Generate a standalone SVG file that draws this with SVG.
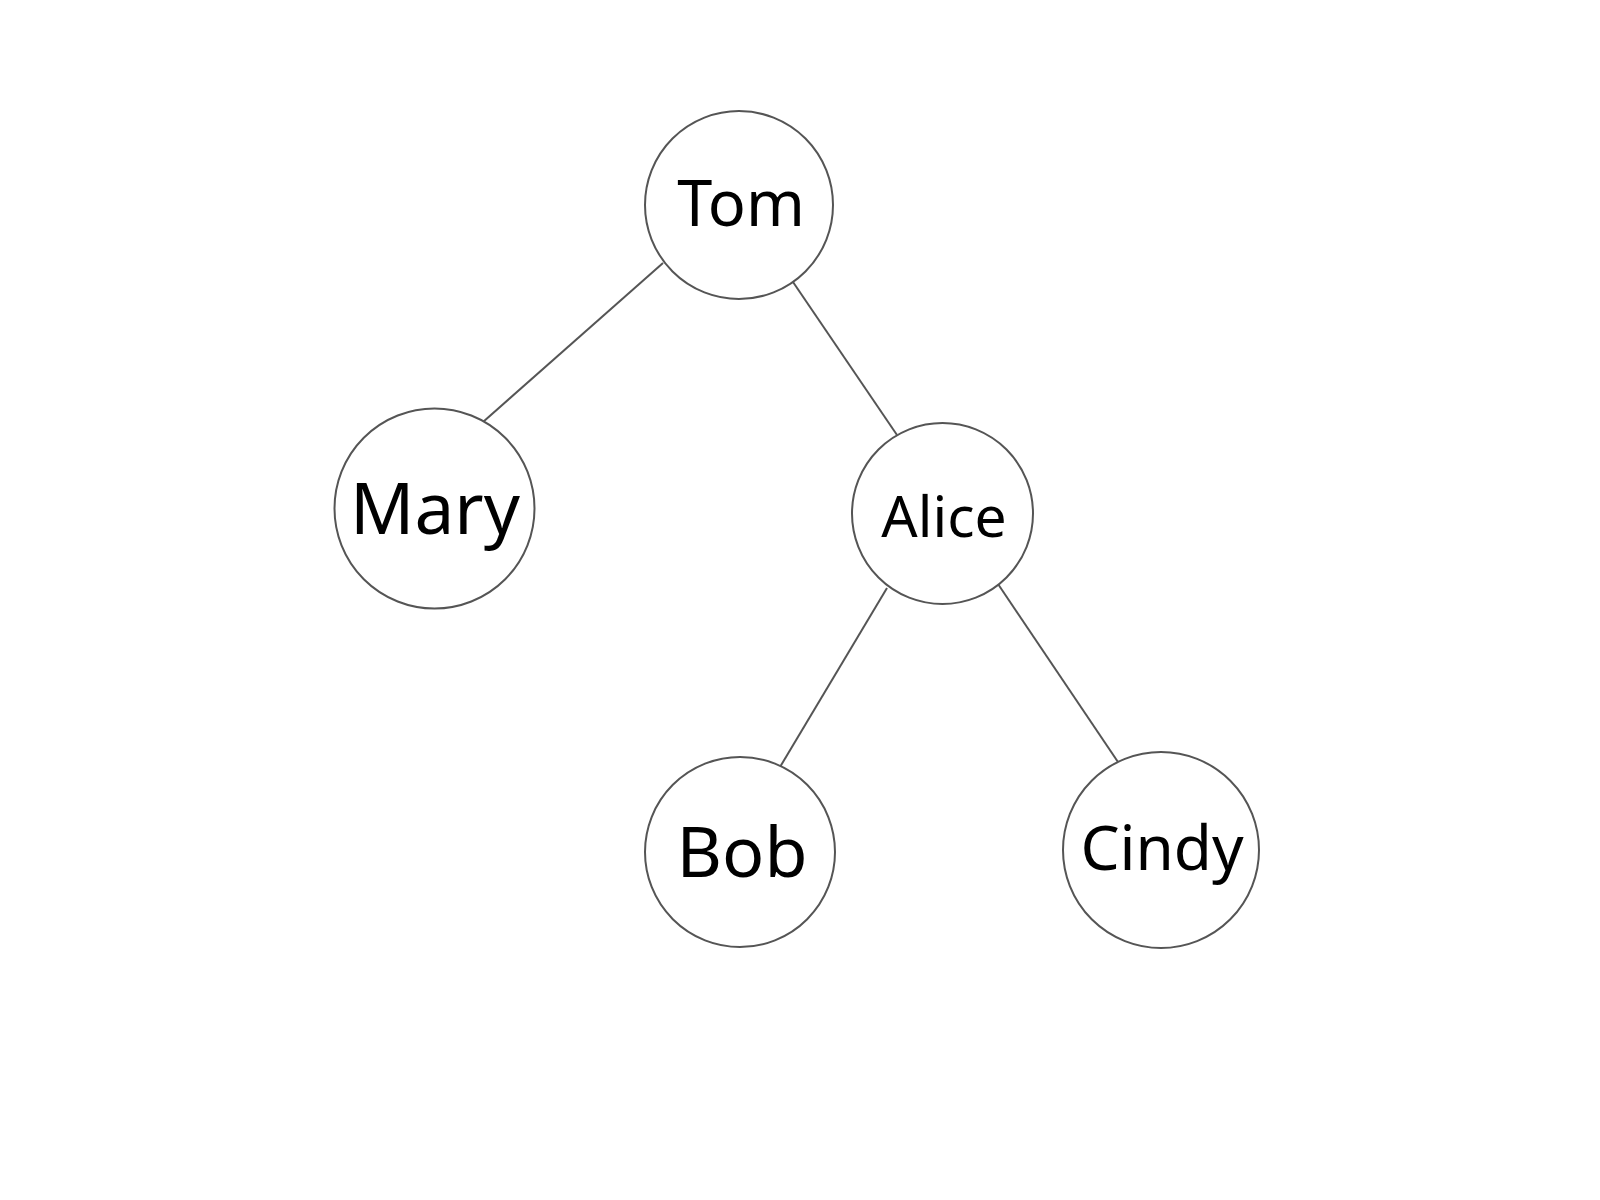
<svg xmlns="http://www.w3.org/2000/svg" width="1600" height="1200" viewBox="0 0 1600 1200">
<style>
.node circle{fill:#fff;stroke:#555;stroke-width:2}
.node text{font-family:"Noto Sans","Liberation Sans",Arial,sans-serif;fill:#000;text-anchor:middle}
#edges line{stroke:#555;stroke-width:2}
</style>
<rect width="1600" height="1200" fill="#fff"/>
<g id="edges">
<line x1="663" y1="263" x2="483" y2="422"/>
<line x1="793" y1="282" x2="897" y2="435"/>
<line x1="887" y1="588" x2="780" y2="767"/>
<line x1="998" y1="584" x2="1118" y2="762"/>
</g>
<g id="node-tom" class="node"><circle cx="739" cy="205" r="94"/><text x="741" y="226" font-size="63">Tom</text></g>
<g id="node-mary" class="node"><circle cx="434.5" cy="508.5" r="100"/><text x="435" y="534" font-size="71">Mary</text></g>
<g id="node-alice" class="node"><circle cx="942.5" cy="513.5" r="90.5"/><text x="944" y="537" font-size="57">Alice</text></g>
<g id="node-bob" class="node"><circle cx="740" cy="852" r="95"/><text x="742" y="877" font-size="70">Bob</text></g>
<g id="node-cindy" class="node"><circle cx="1161" cy="850" r="98"/><text x="1162" y="870" font-size="62">Cindy</text></g>
</svg>
